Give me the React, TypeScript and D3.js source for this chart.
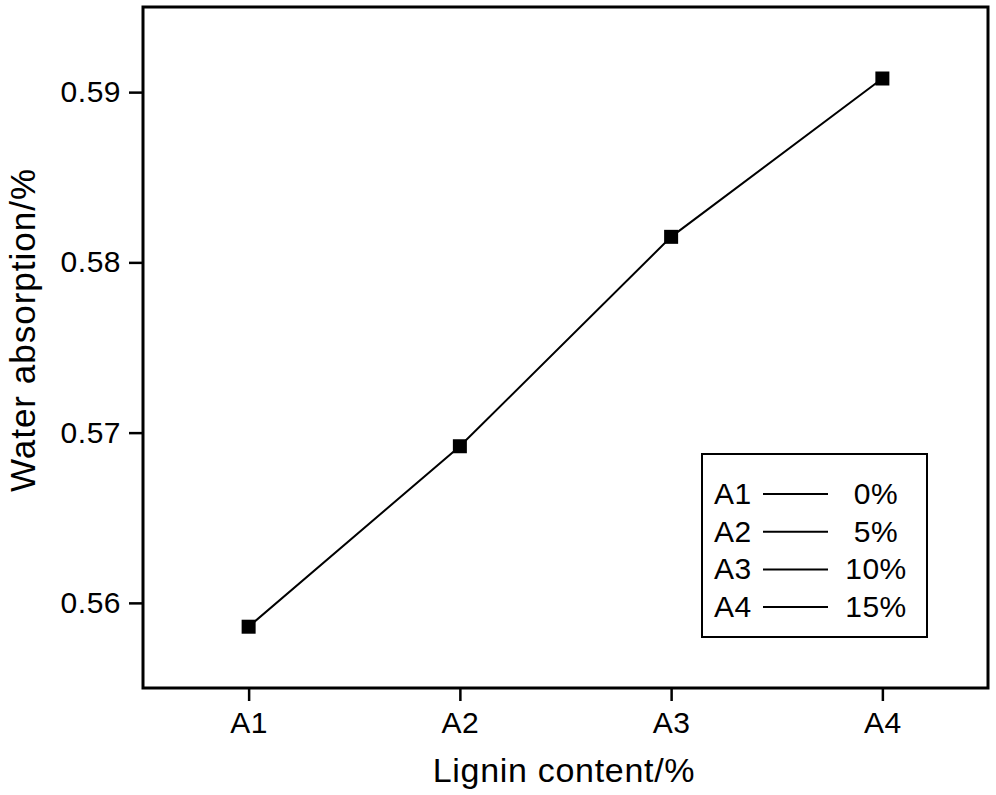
import React, { useEffect, useRef } from "react";
import * as d3 from "d3";

// values
const categories = ["A1", "A2", "A3", "A4"];
const absorption = [0.5586, 0.5692, 0.5815, 0.5908];
const yTicks = [0.56, 0.57, 0.58, 0.59];
const legendLabels = ["A1", "A2", "A3", "A4"];
const legendValues = ["0%", "5%", "10%", "15%"];

const W = 996;
const H = 795;
const margin = { top: 7, right: 8, bottom: 107, left: 143 };
const FONT = "'Liberation Sans', Arial, sans-serif";

export default function App() {
  const ref = useRef<SVGSVGElement>(null);

  useEffect(() => {
    const svg = d3.select(ref.current);
    svg.selectAll("*").remove();

    const x0 = margin.left;
    const x1 = W - margin.right;
    const y0 = H - margin.bottom;
    const y1 = margin.top;

    const x = d3.scalePoint<string>().domain(categories).range([x0, x1]).padding(0.5);
    const y = d3.scaleLinear().domain([0.555, 0.595]).range([y0, y1]);

    const g = svg.append("g").attr("font-family", FONT);

    // y axis
    const yAxis = g.append("g")
      .attr("transform", `translate(${x0},0)`)
      .call(d3.axisLeft(y).tickValues(yTicks).tickFormat(d3.format(".2f")).tickSize(14).tickPadding(8));
    yAxis.select(".domain").remove();
    yAxis.selectAll("line").attr("stroke", "#000").attr("stroke-width", 2.5);
    yAxis.selectAll("text")
      .attr("font-size", 30).attr("letter-spacing", 0.5)
      .attr("font-family", FONT).attr("fill", "#000");

    // x axis
    const xAxis = g.append("g")
      .attr("transform", `translate(0,${y0})`)
      .call(d3.axisBottom(x).tickSize(13).tickPadding(11));
    xAxis.select(".domain").remove();
    xAxis.selectAll("line").attr("stroke", "#000").attr("stroke-width", 2.5);
    xAxis.selectAll("text")
      .attr("font-size", 30).attr("letter-spacing", 0.5)
      .attr("font-family", FONT).attr("fill", "#000");

    // frame
    g.append("rect")
      .attr("x", x0).attr("y", y1)
      .attr("width", x1 - x0).attr("height", y0 - y1)
      .attr("fill", "none").attr("stroke", "#000").attr("stroke-width", 3);

    // line + markers
    const line = d3.line<number>()
      .x((d, i) => x(categories[i]) as number)
      .y(d => y(d));
    g.append("path")
      .datum(absorption)
      .attr("d", line)
      .attr("fill", "none")
      .attr("stroke", "#000")
      .attr("stroke-width", 2);

    const sz = 14;
    g.selectAll("rect.pt")
      .data(absorption)
      .enter()
      .append("rect")
      .attr("class", "pt")
      .attr("x", (d, i) => (x(categories[i]) as number) - sz / 2)
      .attr("y", d => y(d) - sz / 2)
      .attr("width", sz).attr("height", sz)
      .attr("fill", "#000");

    // axis titles
    g.append("text")
      .attr("x", 564)
      .attr("y", 782)
      .attr("text-anchor", "middle")
      .attr("font-size", 34)
      .attr("letter-spacing", 0.7)
      .text("Lignin content/%");

    g.append("text")
      .attr("transform", `translate(35,330) rotate(-90)`)
      .attr("text-anchor", "middle")
      .attr("font-size", 35)
      .attr("letter-spacing", 1)
      .text("Water absorption/%");

    // legend
    const lg = g.append("g");
    lg.append("rect")
      .attr("x", 702).attr("y", 454)
      .attr("width", 225).attr("height", 183)
      .attr("fill", "#fff").attr("stroke", "#000").attr("stroke-width", 2);
    legendLabels.forEach((lab, i) => {
      const by = 504 + i * 37.7;
      lg.append("text").attr("x", 714).attr("y", by)
        .attr("font-size", 30).attr("letter-spacing", 0.5).text(lab);
      lg.append("line")
        .attr("x1", 763).attr("x2", 828)
        .attr("y1", by - 10).attr("y2", by - 10)
        .attr("stroke", "#000").attr("stroke-width", 2);
      lg.append("text").attr("x", 876).attr("y", by)
        .attr("text-anchor", "middle").attr("font-size", 30).attr("letter-spacing", 0.5)
        .text(legendValues[i]);
    });
  }, []);

  return (
    <div style={{ position: "absolute", left: 0, top: 0 }}>
      <svg ref={ref} width={W} height={H} style={{ display: "block", background: "#fff" }} />
    </div>
  );
}
